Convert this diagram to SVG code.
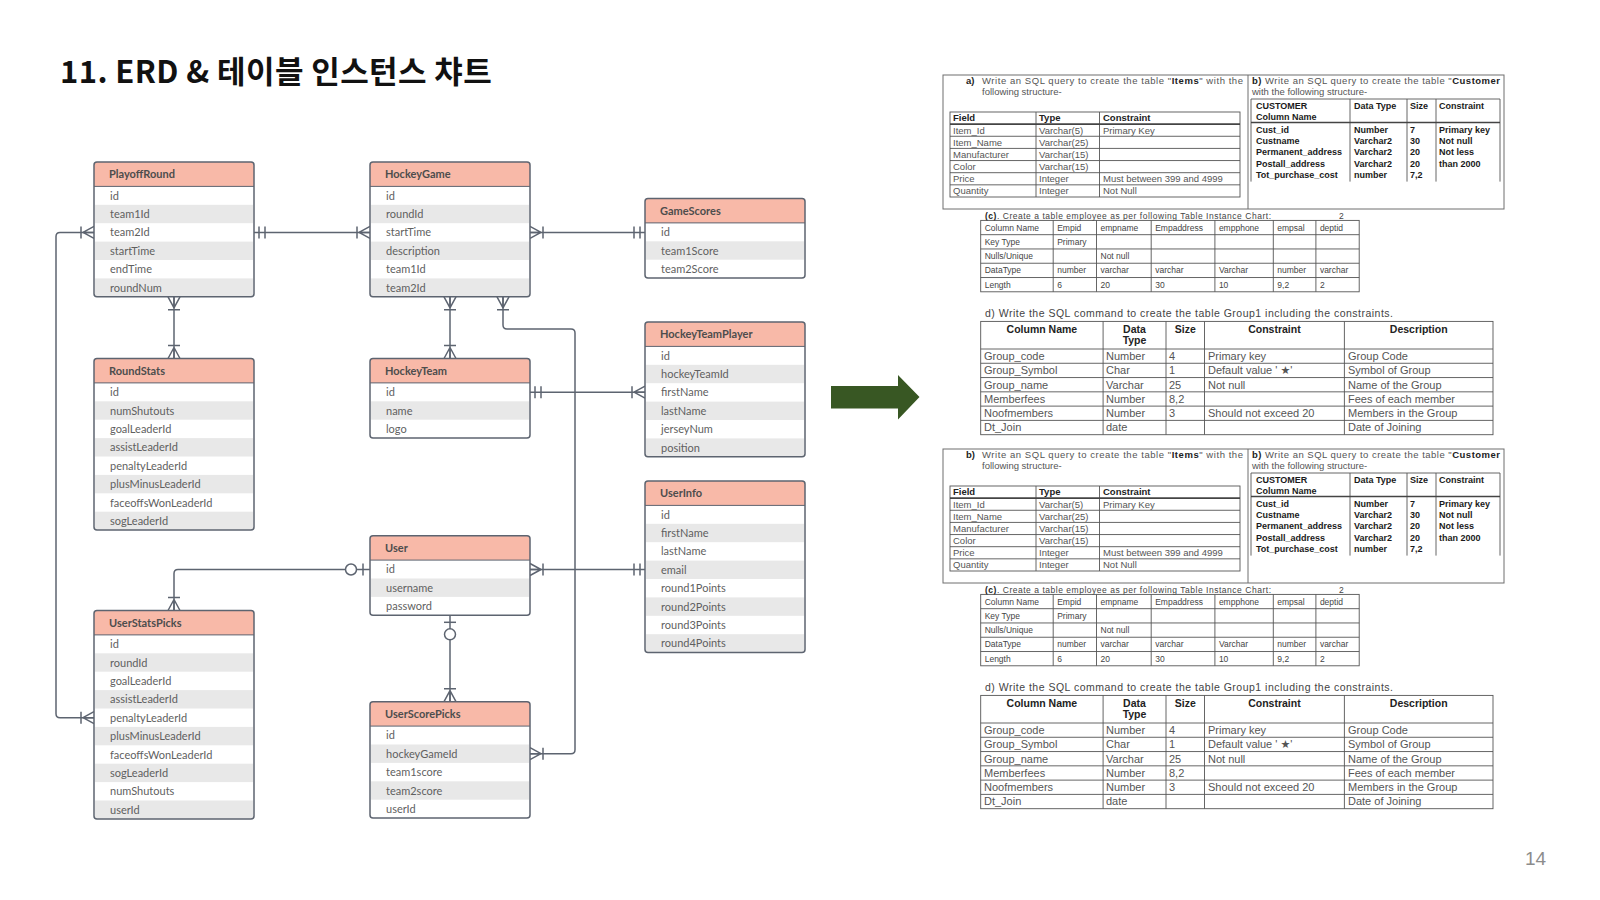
<svg xmlns="http://www.w3.org/2000/svg" width="1600" height="900" viewBox="0 0 1600 900">
<style>
.bx{fill:none;stroke:#5d6470;stroke-width:1.5}
.hd{fill:#f8b9a8}
.g{fill:#e8e8e8}
.sp{stroke:#5d6470;stroke-width:1}
.ht{font-family:Lato,"Liberation Sans",sans-serif;font-weight:700;font-size:11px;fill:#4d4d4d}
.ft{font-family:Lato,"Liberation Sans",sans-serif;font-size:11px;fill:#5f5f5f}
.fr{fill:none;stroke:#6e6e6e;stroke-width:1}
.tl{fill:none;stroke:#555;stroke-width:0.9}
.tk{fill:none;stroke:#444;stroke-width:1.6}
.s95{font-family:"Liberation Sans",Arial,sans-serif;font-size:9.5px;fill:#555}
.hb95{font-family:"Liberation Sans",Arial,sans-serif;font-size:9.5px;font-weight:700;fill:#222}
.cb{font-family:"Liberation Sans",Arial,sans-serif;font-size:9px;font-weight:700;fill:#1a1a1a}
.s85{font-family:"Liberation Sans",Arial,sans-serif;font-size:8.5px;fill:#444}
.s105{font-family:"Liberation Sans",Arial,sans-serif;font-size:10.5px;fill:#444}
.hb{font-family:"Liberation Sans",Arial,sans-serif;font-size:10.5px;font-weight:700;fill:#222;text-anchor:middle}
.s11{font-family:"Liberation Sans","DejaVu Sans",Arial,sans-serif;font-size:11px;fill:#555}
</style>
<defs>
<marker id="many" markerUnits="userSpaceOnUse" orient="auto-start-reverse" refX="0" refY="0" markerWidth="1" markerHeight="1" overflow="visible">
<path d="M-11,0L0,-6M-11,0L0,6M-11,0L0,0M-13,-6V6" fill="none" stroke="#5d6470" stroke-width="1.5"/>
</marker>
<marker id="one" markerUnits="userSpaceOnUse" orient="auto-start-reverse" refX="0" refY="0" markerWidth="1" markerHeight="1" overflow="visible">
<path d="M-5,-6V6M-11,-6V6" fill="none" stroke="#5d6470" stroke-width="1.5"/>
</marker>
<marker id="zeroone" markerUnits="userSpaceOnUse" orient="auto-start-reverse" refX="0" refY="0" markerWidth="1" markerHeight="1" overflow="visible">
<path d="M-7,-6V6" fill="none" stroke="#5d6470" stroke-width="1.5"/>
<circle cx="-19" cy="0" r="5.5" fill="#fff" stroke="#5d6470" stroke-width="1.5"/>
</marker>
</defs>
<rect width="1600" height="900" fill="#fff"/>
<text x="60" y="83" font-family="'Noto Sans CJK KR','Noto Sans',sans-serif" font-weight="700" font-size="31" letter-spacing="0.4" fill="#111">11. ERD &amp; 테이블 인스턴스 챠트</text>

<g id="connectors" fill="none" stroke="#5d6470" stroke-width="1.5">
<path d="M254,232.4H370" marker-start="url(#one)" marker-end="url(#many)"/>
<path d="M530,232.4H645" marker-start="url(#many)" marker-end="url(#one)"/>
<path d="M530,392.2H645" marker-start="url(#one)" marker-end="url(#many)"/>
<path d="M530,569.5H645" marker-start="url(#many)" marker-end="url(#one)"/>
<path d="M174,296.8V358.5" marker-start="url(#many)" marker-end="url(#many)"/>
<path d="M450,296.8V358.5" marker-start="url(#many)" marker-end="url(#many)"/>
<path d="M503,296.8V325Q503,329 507,329H571Q575,329 575,333V749.7Q575,753.7 571,753.7H530" marker-start="url(#many)" marker-end="url(#many)"/>
<path d="M94,232.4H60Q56,232.4 56,236.4V713.7Q56,717.7 60,717.7H94" marker-start="url(#many)" marker-end="url(#many)"/>
<path d="M370,569.5H178Q174,569.5 174,573.5V610.5" marker-start="url(#zeroone)" marker-end="url(#many)"/>
<path d="M450,615.3V701.7" marker-start="url(#zeroone)" marker-end="url(#many)"/>
</g>

<g id="PlayoffRound">
<rect x="94" y="162" width="160" height="134.8" rx="3" fill="#fff"/>
<rect class="g" x="95" y="204.8" width="158" height="18.4"/>
<rect class="g" x="95" y="241.6" width="158" height="18.4"/>
<rect class="g" x="95" y="278.4" width="158" height="18.4"/>
<path class="hd" d="M94,186.4V165Q94,162 97,162H251Q254,162 254,165V186.4Z"/>
<line class="sp" x1="94" y1="186.4" x2="254" y2="186.4"/>
<rect class="bx" x="94" y="162" width="160" height="134.8" rx="3"/>
<text class="ht" x="109" y="178">PlayoffRound</text>
<text class="ft" x="110" y="199.6">id</text>
<text class="ft" x="110" y="218">team1Id</text>
<text class="ft" x="110" y="236.4">team2Id</text>
<text class="ft" x="110" y="254.8">startTime</text>
<text class="ft" x="110" y="273.2">endTime</text>
<text class="ft" x="110" y="291.6">roundNum</text>
</g>

<g id="HockeyGame">
<rect x="370" y="162" width="160" height="134.8" rx="3" fill="#fff"/>
<rect class="g" x="371" y="204.8" width="158" height="18.4"/>
<rect class="g" x="371" y="241.6" width="158" height="18.4"/>
<rect class="g" x="371" y="278.4" width="158" height="18.4"/>
<path class="hd" d="M370,186.4V165Q370,162 373,162H527Q530,162 530,165V186.4Z"/>
<line class="sp" x1="370" y1="186.4" x2="530" y2="186.4"/>
<rect class="bx" x="370" y="162" width="160" height="134.8" rx="3"/>
<text class="ht" x="385" y="178">HockeyGame</text>
<text class="ft" x="386" y="199.6">id</text>
<text class="ft" x="386" y="218">roundId</text>
<text class="ft" x="386" y="236.4">startTime</text>
<text class="ft" x="386" y="254.8">description</text>
<text class="ft" x="386" y="273.2">team1Id</text>
<text class="ft" x="386" y="291.6">team2Id</text>
</g>

<g id="GameScores">
<rect x="645" y="198.5" width="160" height="79.6" rx="3" fill="#fff"/>
<rect class="g" x="646" y="241.3" width="158" height="18.4"/>
<path class="hd" d="M645,222.9V201.5Q645,198.5 648,198.5H802Q805,198.5 805,201.5V222.9Z"/>
<line class="sp" x1="645" y1="222.9" x2="805" y2="222.9"/>
<rect class="bx" x="645" y="198.5" width="160" height="79.6" rx="3"/>
<text class="ht" x="660" y="214.5">GameScores</text>
<text class="ft" x="661" y="236.1">id</text>
<text class="ft" x="661" y="254.5">team1Score</text>
<text class="ft" x="661" y="272.9">team2Score</text>
</g>

<g id="RoundStats">
<rect x="94" y="358.5" width="160" height="171.6" rx="3" fill="#fff"/>
<rect class="g" x="95" y="401.3" width="158" height="18.4"/>
<rect class="g" x="95" y="438.1" width="158" height="18.4"/>
<rect class="g" x="95" y="474.9" width="158" height="18.4"/>
<rect class="g" x="95" y="511.7" width="158" height="18.4"/>
<path class="hd" d="M94,382.9V361.5Q94,358.5 97,358.5H251Q254,358.5 254,361.5V382.9Z"/>
<line class="sp" x1="94" y1="382.9" x2="254" y2="382.9"/>
<rect class="bx" x="94" y="358.5" width="160" height="171.6" rx="3"/>
<text class="ht" x="109" y="374.5">RoundStats</text>
<text class="ft" x="110" y="396.1">id</text>
<text class="ft" x="110" y="414.5">numShutouts</text>
<text class="ft" x="110" y="432.9">goalLeaderId</text>
<text class="ft" x="110" y="451.3">assistLeaderId</text>
<text class="ft" x="110" y="469.7">penaltyLeaderId</text>
<text class="ft" x="110" y="488.1">plusMinusLeaderId</text>
<text class="ft" x="110" y="506.5">faceoffsWonLeaderId</text>
<text class="ft" x="110" y="524.9">sogLeaderId</text>
</g>

<g id="HockeyTeam">
<rect x="370" y="358.5" width="160" height="79.6" rx="3" fill="#fff"/>
<rect class="g" x="371" y="401.3" width="158" height="18.4"/>
<path class="hd" d="M370,382.9V361.5Q370,358.5 373,358.5H527Q530,358.5 530,361.5V382.9Z"/>
<line class="sp" x1="370" y1="382.9" x2="530" y2="382.9"/>
<rect class="bx" x="370" y="358.5" width="160" height="79.6" rx="3"/>
<text class="ht" x="385" y="374.5">HockeyTeam</text>
<text class="ft" x="386" y="396.1">id</text>
<text class="ft" x="386" y="414.5">name</text>
<text class="ft" x="386" y="432.9">logo</text>
</g>

<g id="HockeyTeamPlayer">
<rect x="645" y="322" width="160" height="134.8" rx="3" fill="#fff"/>
<rect class="g" x="646" y="364.8" width="158" height="18.4"/>
<rect class="g" x="646" y="401.6" width="158" height="18.4"/>
<rect class="g" x="646" y="438.4" width="158" height="18.4"/>
<path class="hd" d="M645,346.4V325Q645,322 648,322H802Q805,322 805,325V346.4Z"/>
<line class="sp" x1="645" y1="346.4" x2="805" y2="346.4"/>
<rect class="bx" x="645" y="322" width="160" height="134.8" rx="3"/>
<text class="ht" x="660" y="338">HockeyTeamPlayer</text>
<text class="ft" x="661" y="359.6">id</text>
<text class="ft" x="661" y="378">hockeyTeamId</text>
<text class="ft" x="661" y="396.4">firstName</text>
<text class="ft" x="661" y="414.8">lastName</text>
<text class="ft" x="661" y="433.2">jerseyNum</text>
<text class="ft" x="661" y="451.6">position</text>
</g>

<g id="UserInfo">
<rect x="645" y="481" width="160" height="171.6" rx="3" fill="#fff"/>
<rect class="g" x="646" y="523.8" width="158" height="18.4"/>
<rect class="g" x="646" y="560.6" width="158" height="18.4"/>
<rect class="g" x="646" y="597.4" width="158" height="18.4"/>
<rect class="g" x="646" y="634.2" width="158" height="18.4"/>
<path class="hd" d="M645,505.4V484Q645,481 648,481H802Q805,481 805,484V505.4Z"/>
<line class="sp" x1="645" y1="505.4" x2="805" y2="505.4"/>
<rect class="bx" x="645" y="481" width="160" height="171.6" rx="3"/>
<text class="ht" x="660" y="497">UserInfo</text>
<text class="ft" x="661" y="518.6">id</text>
<text class="ft" x="661" y="537">firstName</text>
<text class="ft" x="661" y="555.4">lastName</text>
<text class="ft" x="661" y="573.8">email</text>
<text class="ft" x="661" y="592.2">round1Points</text>
<text class="ft" x="661" y="610.6">round2Points</text>
<text class="ft" x="661" y="629">round3Points</text>
<text class="ft" x="661" y="647.4">round4Points</text>
</g>

<g id="User">
<rect x="370" y="535.7" width="160" height="79.6" rx="3" fill="#fff"/>
<rect class="g" x="371" y="578.5" width="158" height="18.4"/>
<path class="hd" d="M370,560.1V538.7Q370,535.7 373,535.7H527Q530,535.7 530,538.7V560.1Z"/>
<line class="sp" x1="370" y1="560.1" x2="530" y2="560.1"/>
<rect class="bx" x="370" y="535.7" width="160" height="79.6" rx="3"/>
<text class="ht" x="385" y="551.7">User</text>
<text class="ft" x="386" y="573.3">id</text>
<text class="ft" x="386" y="591.7">username</text>
<text class="ft" x="386" y="610.1">password</text>
</g>

<g id="UserStatsPicks">
<rect x="94" y="610.5" width="160" height="208.4" rx="3" fill="#fff"/>
<rect class="g" x="95" y="653.3" width="158" height="18.4"/>
<rect class="g" x="95" y="690.1" width="158" height="18.4"/>
<rect class="g" x="95" y="726.9" width="158" height="18.4"/>
<rect class="g" x="95" y="763.7" width="158" height="18.4"/>
<rect class="g" x="95" y="800.5" width="158" height="18.4"/>
<path class="hd" d="M94,634.9V613.5Q94,610.5 97,610.5H251Q254,610.5 254,613.5V634.9Z"/>
<line class="sp" x1="94" y1="634.9" x2="254" y2="634.9"/>
<rect class="bx" x="94" y="610.5" width="160" height="208.4" rx="3"/>
<text class="ht" x="109" y="626.5">UserStatsPicks</text>
<text class="ft" x="110" y="648.1">id</text>
<text class="ft" x="110" y="666.5">roundId</text>
<text class="ft" x="110" y="684.9">goalLeaderId</text>
<text class="ft" x="110" y="703.3">assistLeaderId</text>
<text class="ft" x="110" y="721.7">penaltyLeaderId</text>
<text class="ft" x="110" y="740.1">plusMinusLeaderId</text>
<text class="ft" x="110" y="758.5">faceoffsWonLeaderId</text>
<text class="ft" x="110" y="776.9">sogLeaderId</text>
<text class="ft" x="110" y="795.3">numShutouts</text>
<text class="ft" x="110" y="813.7">userId</text>
</g>

<g id="UserScorePicks">
<rect x="370" y="701.7" width="160" height="116.4" rx="3" fill="#fff"/>
<rect class="g" x="371" y="744.5" width="158" height="18.4"/>
<rect class="g" x="371" y="781.3" width="158" height="18.4"/>
<path class="hd" d="M370,726.1V704.7Q370,701.7 373,701.7H527Q530,701.7 530,704.7V726.1Z"/>
<line class="sp" x1="370" y1="726.1" x2="530" y2="726.1"/>
<rect class="bx" x="370" y="701.7" width="160" height="116.4" rx="3"/>
<text class="ht" x="385" y="717.7">UserScorePicks</text>
<text class="ft" x="386" y="739.3">id</text>
<text class="ft" x="386" y="757.7">hockeyGameId</text>
<text class="ft" x="386" y="776.1">team1score</text>
<text class="ft" x="386" y="794.5">team2score</text>
<text class="ft" x="386" y="812.9">userId</text>
</g>

<polygon id="arrow" points="831,386 898,386 898,375 919.5,397 898,419.5 898,408.5 831,408.5" fill="#385723"/>

<g id="sqlTop">
<rect class="fr" x="943" y="75" width="561" height="134"/>
<line class="fr" x1="1248" y1="75" x2="1248" y2="209"/>
<text class="hb95" x="966" y="84">a)</text>
<text class="s95" x="982" y="84" textLength="261" lengthAdjust="spacing">Write an SQL query to create the table "<tspan font-weight="700" fill="#222">Items</tspan>" with the</text>
<text class="s95" x="982" y="95">following structure-</text>
<rect class="tl" x="950" y="112" width="290" height="85"/>
<path class="tl" d="M950,136.28H1240M950,148.42H1240M950,160.56H1240M950,172.7H1240M950,184.84H1240M1036,112V197M1099.5,112V197"/>
<line class="tk" x1="950" y1="124.14" x2="1240" y2="124.14"/>
<text class="hb95" x="953" y="121.4">Field</text>
<text class="hb95" x="1039" y="121.4">Type</text>
<text class="hb95" x="1103" y="121.4">Constraint</text>
<text class="s95" x="953" y="133.5">Item_Id</text>
<text class="s95" x="1039" y="133.5">Varchar(5)</text>
<text class="s95" x="1103" y="133.5">Primary Key</text>
<text class="s95" x="953" y="145.7">Item_Name</text>
<text class="s95" x="1039" y="145.7">Varchar(25)</text>
<text class="s95" x="953" y="157.8">Manufacturer</text>
<text class="s95" x="1039" y="157.8">Varchar(15)</text>
<text class="s95" x="953" y="169.9">Color</text>
<text class="s95" x="1039" y="169.9">Varchar(15)</text>
<text class="s95" x="953" y="182.1">Price</text>
<text class="s95" x="1039" y="182.1">Integer</text>
<text class="s95" x="1103" y="182.1">Must between 399 and 4999</text>
<text class="s95" x="953" y="194.2">Quantity</text>
<text class="s95" x="1039" y="194.2">Integer</text>
<text class="s95" x="1103" y="194.2">Not Null</text>
<text class="s95" x="1252" y="84" textLength="248" lengthAdjust="spacing"><tspan font-weight="700" fill="#222">b)</tspan> Write an SQL query to create the table "<tspan font-weight="700" fill="#222">Customer</tspan></text>
<text class="s95" x="1252" y="95">with the following structure-</text>
<path class="tl" d="M1251,99H1500M1251,99V181.6M1350,99V181.6M1407,99V181.6M1436,99V181.6M1500,99V181.6"/>
<line class="tk" x1="1251" y1="122.5" x2="1500" y2="122.5"/>
<text class="cb" x="1256" y="108.5">CUSTOMER</text>
<text class="cb" x="1256" y="119.5">Column Name</text>
<text class="cb" x="1354" y="108.5">Data Type</text>
<text class="cb" x="1410" y="108.5">Size</text>
<text class="cb" x="1439" y="108.5">Constraint</text>
<text class="cb" x="1256" y="132.8">Cust_id</text>
<text class="cb" x="1354" y="132.8">Number</text>
<text class="cb" x="1410" y="132.8">7</text>
<text class="cb" x="1439" y="132.8">Primary key</text>
<text class="cb" x="1256" y="144">Custname</text>
<text class="cb" x="1354" y="144">Varchar2</text>
<text class="cb" x="1410" y="144">30</text>
<text class="cb" x="1439" y="144">Not null</text>
<text class="cb" x="1256" y="155.3">Permanent_address</text>
<text class="cb" x="1354" y="155.3">Varchar2</text>
<text class="cb" x="1410" y="155.3">20</text>
<text class="cb" x="1439" y="155.3">Not less</text>
<text class="cb" x="1256" y="166.5">Postall_address</text>
<text class="cb" x="1354" y="166.5">Varchar2</text>
<text class="cb" x="1410" y="166.5">20</text>
<text class="cb" x="1439" y="166.5">than  2000</text>
<text class="cb" x="1256" y="177.7">Tot_purchase_cost</text>
<text class="cb" x="1354" y="177.7">number</text>
<text class="cb" x="1410" y="177.7">7,2</text>
<text class="s85" x="985" y="218.5" textLength="286" lengthAdjust="spacing"><tspan font-weight="700" fill="#222">(c)</tspan>. Create a table employee as per following Table Instance Chart:</text>
<text class="s85" x="1339" y="218.5">2</text>
<rect class="tl" x="980.7" y="220.4" width="378.5" height="71.4"/>
<path class="tl" d="M980.7,234.68H1359.2M980.7,248.96H1359.2M980.7,263.24H1359.2M980.7,277.52H1359.2M1053.2,220.4V291.8M1096.5,220.4V291.8M1151.2,220.4V291.8M1214.9,220.4V291.8M1273.3,220.4V291.8M1315.9,220.4V291.8"/>
<text class="s85" x="984.7" y="230.5">Column Name</text>
<text class="s85" x="1057.2" y="230.5">Empid</text>
<text class="s85" x="1100.5" y="230.5">empname</text>
<text class="s85" x="1155.2" y="230.5">Empaddress</text>
<text class="s85" x="1218.9" y="230.5">empphone</text>
<text class="s85" x="1277.3" y="230.5">empsal</text>
<text class="s85" x="1319.9" y="230.5">deptid</text>
<text class="s85" x="984.7" y="244.8">Key Type</text>
<text class="s85" x="1057.2" y="244.8">Primary</text>
<text class="s85" x="984.7" y="259.1">Nulls/Unique</text>
<text class="s85" x="1100.5" y="259.1">Not null</text>
<text class="s85" x="984.7" y="273.4">DataType</text>
<text class="s85" x="1057.2" y="273.4">number</text>
<text class="s85" x="1100.5" y="273.4">varchar</text>
<text class="s85" x="1155.2" y="273.4">varchar</text>
<text class="s85" x="1218.9" y="273.4">Varchar</text>
<text class="s85" x="1277.3" y="273.4">number</text>
<text class="s85" x="1319.9" y="273.4">varchar</text>
<text class="s85" x="984.7" y="287.7">Length</text>
<text class="s85" x="1057.2" y="287.7">6</text>
<text class="s85" x="1100.5" y="287.7">20</text>
<text class="s85" x="1155.2" y="287.7">30</text>
<text class="s85" x="1218.9" y="287.7">10</text>
<text class="s85" x="1277.3" y="287.7">9,2</text>
<text class="s85" x="1319.9" y="287.7">2</text>
<text class="s105" x="985" y="317" textLength="408" lengthAdjust="spacing">d) Write the SQL command to create the table Group1 including the constraints.</text>
<rect class="tl" x="980.7" y="321.4" width="512.3" height="113.3"/>
<path class="tl" d="M980.7,349H1493M980.7,363.28H1493M980.7,377.56H1493M980.7,391.84H1493M980.7,406.12H1493M980.7,420.4H1493M1103.1,321.4V434.7M1166,321.4V434.7M1204.5,321.4V434.7M1344.4,321.4V434.7"/>
<text class="hb" x="1041.9" y="332.5">Column Name</text>
<text class="hb" x="1134.5" y="332.5">Data</text>
<text class="hb" x="1134.5" y="344">Type</text>
<text class="hb" x="1185.25" y="332.5">Size</text>
<text class="hb" x="1274.45" y="332.5">Constraint</text>
<text class="hb" x="1418.7" y="332.5">Description</text>
<text class="s11" x="984" y="359.9">Group_code</text>
<text class="s11" x="1106" y="359.9">Number</text>
<text class="s11" x="1169" y="359.9">4</text>
<text class="s11" x="1208" y="359.9">Primary key</text>
<text class="s11" x="1348" y="359.9">Group Code</text>
<text class="s11" x="984" y="374.2">Group_Symbol</text>
<text class="s11" x="1106" y="374.2">Char</text>
<text class="s11" x="1169" y="374.2">1</text>
<text class="s11" x="1208" y="374.2">Default value ' ★'</text>
<text class="s11" x="1348" y="374.2">Symbol of Group</text>
<text class="s11" x="984" y="388.5">Group_name</text>
<text class="s11" x="1106" y="388.5">Varchar</text>
<text class="s11" x="1169" y="388.5">25</text>
<text class="s11" x="1208" y="388.5">Not null</text>
<text class="s11" x="1348" y="388.5">Name of the Group</text>
<text class="s11" x="984" y="402.8">Memberfees</text>
<text class="s11" x="1106" y="402.8">Number</text>
<text class="s11" x="1169" y="402.8">8,2</text>
<text class="s11" x="1348" y="402.8">Fees of each  member</text>
<text class="s11" x="984" y="417.1">Noofmembers</text>
<text class="s11" x="1106" y="417.1">Number</text>
<text class="s11" x="1169" y="417.1">3</text>
<text class="s11" x="1208" y="417.1">Should not exceed 20</text>
<text class="s11" x="1348" y="417.1">Members in the Group</text>
<text class="s11" x="984" y="431.4">Dt_Join</text>
<text class="s11" x="1106" y="431.4">date</text>
<text class="s11" x="1348" y="431.4">Date of Joining</text>
</g>

<g id="sqlBottom" transform="translate(0,374)">
<rect class="fr" x="943" y="75" width="561" height="134"/>
<line class="fr" x1="1248" y1="75" x2="1248" y2="209"/>
<text class="hb95" x="966" y="84">b)</text>
<text class="s95" x="982" y="84" textLength="261" lengthAdjust="spacing">Write an SQL query to create the table "<tspan font-weight="700" fill="#222">Items</tspan>" with the</text>
<text class="s95" x="982" y="95">following structure-</text>
<rect class="tl" x="950" y="112" width="290" height="85"/>
<path class="tl" d="M950,136.28H1240M950,148.42H1240M950,160.56H1240M950,172.7H1240M950,184.84H1240M1036,112V197M1099.5,112V197"/>
<line class="tk" x1="950" y1="124.14" x2="1240" y2="124.14"/>
<text class="hb95" x="953" y="121.4">Field</text>
<text class="hb95" x="1039" y="121.4">Type</text>
<text class="hb95" x="1103" y="121.4">Constraint</text>
<text class="s95" x="953" y="133.5">Item_Id</text>
<text class="s95" x="1039" y="133.5">Varchar(5)</text>
<text class="s95" x="1103" y="133.5">Primary Key</text>
<text class="s95" x="953" y="145.7">Item_Name</text>
<text class="s95" x="1039" y="145.7">Varchar(25)</text>
<text class="s95" x="953" y="157.8">Manufacturer</text>
<text class="s95" x="1039" y="157.8">Varchar(15)</text>
<text class="s95" x="953" y="169.9">Color</text>
<text class="s95" x="1039" y="169.9">Varchar(15)</text>
<text class="s95" x="953" y="182.1">Price</text>
<text class="s95" x="1039" y="182.1">Integer</text>
<text class="s95" x="1103" y="182.1">Must between 399 and 4999</text>
<text class="s95" x="953" y="194.2">Quantity</text>
<text class="s95" x="1039" y="194.2">Integer</text>
<text class="s95" x="1103" y="194.2">Not Null</text>
<text class="s95" x="1252" y="84" textLength="248" lengthAdjust="spacing"><tspan font-weight="700" fill="#222">b)</tspan> Write an SQL query to create the table "<tspan font-weight="700" fill="#222">Customer</tspan></text>
<text class="s95" x="1252" y="95">with the following structure-</text>
<path class="tl" d="M1251,99H1500M1251,99V181.6M1350,99V181.6M1407,99V181.6M1436,99V181.6M1500,99V181.6"/>
<line class="tk" x1="1251" y1="122.5" x2="1500" y2="122.5"/>
<text class="cb" x="1256" y="108.5">CUSTOMER</text>
<text class="cb" x="1256" y="119.5">Column Name</text>
<text class="cb" x="1354" y="108.5">Data Type</text>
<text class="cb" x="1410" y="108.5">Size</text>
<text class="cb" x="1439" y="108.5">Constraint</text>
<text class="cb" x="1256" y="132.8">Cust_id</text>
<text class="cb" x="1354" y="132.8">Number</text>
<text class="cb" x="1410" y="132.8">7</text>
<text class="cb" x="1439" y="132.8">Primary key</text>
<text class="cb" x="1256" y="144">Custname</text>
<text class="cb" x="1354" y="144">Varchar2</text>
<text class="cb" x="1410" y="144">30</text>
<text class="cb" x="1439" y="144">Not null</text>
<text class="cb" x="1256" y="155.3">Permanent_address</text>
<text class="cb" x="1354" y="155.3">Varchar2</text>
<text class="cb" x="1410" y="155.3">20</text>
<text class="cb" x="1439" y="155.3">Not less</text>
<text class="cb" x="1256" y="166.5">Postall_address</text>
<text class="cb" x="1354" y="166.5">Varchar2</text>
<text class="cb" x="1410" y="166.5">20</text>
<text class="cb" x="1439" y="166.5">than  2000</text>
<text class="cb" x="1256" y="177.7">Tot_purchase_cost</text>
<text class="cb" x="1354" y="177.7">number</text>
<text class="cb" x="1410" y="177.7">7,2</text>
<text class="s85" x="985" y="218.5" textLength="286" lengthAdjust="spacing"><tspan font-weight="700" fill="#222">(c)</tspan>. Create a table employee as per following Table Instance Chart:</text>
<text class="s85" x="1339" y="218.5">2</text>
<rect class="tl" x="980.7" y="220.4" width="378.5" height="71.4"/>
<path class="tl" d="M980.7,234.68H1359.2M980.7,248.96H1359.2M980.7,263.24H1359.2M980.7,277.52H1359.2M1053.2,220.4V291.8M1096.5,220.4V291.8M1151.2,220.4V291.8M1214.9,220.4V291.8M1273.3,220.4V291.8M1315.9,220.4V291.8"/>
<text class="s85" x="984.7" y="230.5">Column Name</text>
<text class="s85" x="1057.2" y="230.5">Empid</text>
<text class="s85" x="1100.5" y="230.5">empname</text>
<text class="s85" x="1155.2" y="230.5">Empaddress</text>
<text class="s85" x="1218.9" y="230.5">empphone</text>
<text class="s85" x="1277.3" y="230.5">empsal</text>
<text class="s85" x="1319.9" y="230.5">deptid</text>
<text class="s85" x="984.7" y="244.8">Key Type</text>
<text class="s85" x="1057.2" y="244.8">Primary</text>
<text class="s85" x="984.7" y="259.1">Nulls/Unique</text>
<text class="s85" x="1100.5" y="259.1">Not null</text>
<text class="s85" x="984.7" y="273.4">DataType</text>
<text class="s85" x="1057.2" y="273.4">number</text>
<text class="s85" x="1100.5" y="273.4">varchar</text>
<text class="s85" x="1155.2" y="273.4">varchar</text>
<text class="s85" x="1218.9" y="273.4">Varchar</text>
<text class="s85" x="1277.3" y="273.4">number</text>
<text class="s85" x="1319.9" y="273.4">varchar</text>
<text class="s85" x="984.7" y="287.7">Length</text>
<text class="s85" x="1057.2" y="287.7">6</text>
<text class="s85" x="1100.5" y="287.7">20</text>
<text class="s85" x="1155.2" y="287.7">30</text>
<text class="s85" x="1218.9" y="287.7">10</text>
<text class="s85" x="1277.3" y="287.7">9,2</text>
<text class="s85" x="1319.9" y="287.7">2</text>
<text class="s105" x="985" y="317" textLength="408" lengthAdjust="spacing">d) Write the SQL command to create the table Group1 including the constraints.</text>
<rect class="tl" x="980.7" y="321.4" width="512.3" height="113.3"/>
<path class="tl" d="M980.7,349H1493M980.7,363.28H1493M980.7,377.56H1493M980.7,391.84H1493M980.7,406.12H1493M980.7,420.4H1493M1103.1,321.4V434.7M1166,321.4V434.7M1204.5,321.4V434.7M1344.4,321.4V434.7"/>
<text class="hb" x="1041.9" y="332.5">Column Name</text>
<text class="hb" x="1134.5" y="332.5">Data</text>
<text class="hb" x="1134.5" y="344">Type</text>
<text class="hb" x="1185.25" y="332.5">Size</text>
<text class="hb" x="1274.45" y="332.5">Constraint</text>
<text class="hb" x="1418.7" y="332.5">Description</text>
<text class="s11" x="984" y="359.9">Group_code</text>
<text class="s11" x="1106" y="359.9">Number</text>
<text class="s11" x="1169" y="359.9">4</text>
<text class="s11" x="1208" y="359.9">Primary key</text>
<text class="s11" x="1348" y="359.9">Group Code</text>
<text class="s11" x="984" y="374.2">Group_Symbol</text>
<text class="s11" x="1106" y="374.2">Char</text>
<text class="s11" x="1169" y="374.2">1</text>
<text class="s11" x="1208" y="374.2">Default value ' ★'</text>
<text class="s11" x="1348" y="374.2">Symbol of Group</text>
<text class="s11" x="984" y="388.5">Group_name</text>
<text class="s11" x="1106" y="388.5">Varchar</text>
<text class="s11" x="1169" y="388.5">25</text>
<text class="s11" x="1208" y="388.5">Not null</text>
<text class="s11" x="1348" y="388.5">Name of the Group</text>
<text class="s11" x="984" y="402.8">Memberfees</text>
<text class="s11" x="1106" y="402.8">Number</text>
<text class="s11" x="1169" y="402.8">8,2</text>
<text class="s11" x="1348" y="402.8">Fees of each  member</text>
<text class="s11" x="984" y="417.1">Noofmembers</text>
<text class="s11" x="1106" y="417.1">Number</text>
<text class="s11" x="1169" y="417.1">3</text>
<text class="s11" x="1208" y="417.1">Should not exceed 20</text>
<text class="s11" x="1348" y="417.1">Members in the Group</text>
<text class="s11" x="984" y="431.4">Dt_Join</text>
<text class="s11" x="1106" y="431.4">date</text>
<text class="s11" x="1348" y="431.4">Date of Joining</text>
</g>

<text x="1525" y="865" font-family="'Liberation Sans',Arial,sans-serif" font-size="19" fill="#8c8c8c">14</text>
</svg>
